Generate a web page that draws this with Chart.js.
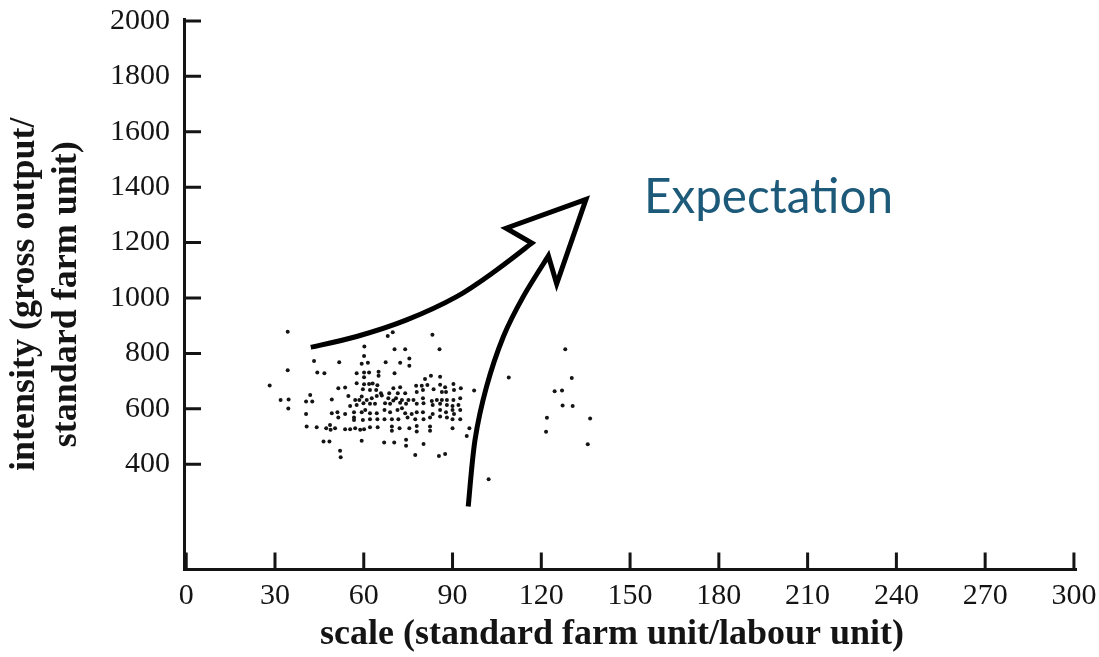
<!DOCTYPE html>
<html><head><meta charset="utf-8">
<script src="https://cdn.jsdelivr.net/npm/chart.js@4.4.1/dist/chart.umd.min.js"></script>
<style>html,body{margin:0;padding:0;background:#fff;overflow:hidden}canvas{display:block}</style>
</head><body>
<canvas id="c" width="1099" height="657"></canvas>
<script>
// ---- data ----
const xTickValues = [0, 30, 60, 90, 120, 150, 180, 210, 240, 270, 300];
const yTickValues = [400, 600, 800, 1000, 1200, 1400, 1600, 1800, 2000];

const scaleValues = [
  34.3,34.3,28.2,31.9,34.6,34.5,
  68.1,69.8,83.2,
  60.2,70.4,74.0,85.6,
  60.1,43.2,51.7,59.3,61.4,67.4,72.3,75.4,75.4,
  44.3,46.7,57.6,60.1,61.8,65.0,70.4,65.0,60.1,
  80.7,82.7,85.8,109.0,128.1,130.3,
  51.4,53.7,57.6,60.1,61.8,63.0,64.6,70.0,72.3,77.7,79.6,81.5,85.8,87.5,90.3,92.8,97.3,
  59.7,62.1,64.2,65.8,68.6,71.5,74.0,77.9,80.0,83.6,86.4,87.8,90.5,
  41.9,40.5,42.6,49.2,54.8,57.1,58.5,59.3,61.0,62.7,64.4,66.1,68.3,70.0,70.9,72.9,75.1,76.8,80.0,83.0,84.7,86.4,88.1,90.3,92.6,
  55.4,57.6,59.9,62.1,63.8,67.2,68.9,72.3,74.3,77.9,80.2,83.3,85.8,88.1,90.0,92.0,
  40.5,49.2,51.1,51.4,53.7,56.7,56.7,59.3,60.5,62.1,64.4,67.0,68.9,71.4,72.9,74.0,76.2,77.9,80.0,83.3,85.8,87.8,90.0,90.5,92.6,
  56.7,59.7,62.1,64.6,67.0,69.5,71.7,74.8,77.4,80.2,82.4,85.8,88.1,90.0,92.6,
  40.7,44.1,47.3,48.6,48.8,50.3,53.7,55.4,57.1,58.8,60.1,62.1,64.7,69.5,69.5,72.1,75.4,77.9,77.9,82.4,82.4,90.0,95.7,94.8,
  46.4,48.4,59.3,66.9,70.3,74.3,74.3,80.2,
  52.0,52.2,77.4,85.4,87.5,
  102.2,
  124.5,127.0,127.2,130.6,121.9,136.5,121.6,135.7
];
const intensityValues = [
  878,739,684,632,634,601,
  863,876,867,
  825,815,815,815,
  791,773,768,763,766,768,766,782,755,
  731,728,728,731,731,734,728,719,714,
  708,719,716,713,815,711,
  674,677,692,689,690,691,685,674,678,683,683,686,687,678,690,674,666,
  671,668,668,656,656,656,656,661,668,671,661,661,668,
  650,626,626,634,646,632,632,644,632,638,646,648,638,630,638,632,632,632,638,628,632,632,632,632,638,
  610,614,620,618,618,620,618,622,618,618,620,614,618,614,610,614,
  581,584,588,569,581,588,569,588,596,584,584,596,588,596,602,584,581,588,588,581,596,588,596,581,596,
  560,560,562,562,562,562,562,569,562,562,569,572,569,562,562,
  536,533,530,542,524,530,526,526,530,524,526,533,533,536,521,530,530,538,518,536,521,530,530,502,
  482,482,485,478,478,488,467,473,
  449,425,433,430,437,
  346,
  663,666,612,610,568,565,517,472
];

// annotation arrow (in data units: scale, intensity)
const arrowUpper = [[42.1,822],[57.6,861],[74.5,921],[91.4,1005],[104.9,1101],[116.8,1198]];
const arrowHead  = [[108.1,1252],[135.1,1356],[125.2,1051],[122.4,1152]];
const arrowLower = [[122.4,1152],[113.9,1005],[107.2,861],[101.5,680],[97.6,488],[95.3,247]];
const annotationText = 'Expectation';
const annotationAt = [154.7, 1308];

const xTitle = 'scale (standard farm unit/labour unit)';
const yTitle = ['intensity (gross output/', 'standard farm unit)'];

// ---- chart ----
const points = scaleValues.map((x, i) => ({x: x, y: intensityValues[i]}));
const INK = '#141414';
const SERIF = "'Liberation Serif', 'Times New Roman', serif";

function smoothPath(ctx, pts, first) {
  if (first) ctx.moveTo(pts[0][0], pts[0][1]); else ctx.lineTo(pts[0][0], pts[0][1]);
  for (let i = 0; i < pts.length - 1; i++) {
    const p0 = pts[i - 1] || pts[i], p1 = pts[i], p2 = pts[i + 1], p3 = pts[i + 2] || p2;
    ctx.bezierCurveTo(p1[0] + (p2[0] - p0[0]) / 6, p1[1] + (p2[1] - p0[1]) / 6,
                      p2[0] - (p3[0] - p1[0]) / 6, p2[1] - (p3[1] - p1[1]) / 6,
                      p2[0], p2[1]);
  }
}

const decor = {
  id: 'decor',
  afterDatasetsDraw(chart) {
    const {ctx, chartArea, scales: {x, y}} = chart;
    const P = p => [x.getPixelForValue(p[0]), y.getPixelForValue(p[1])];
    ctx.save();
    // inward tick marks
    ctx.strokeStyle = INK; ctx.lineWidth = 3; ctx.lineCap = 'butt';
    ctx.beginPath();
    xTickValues.forEach(v => { const px = x.getPixelForValue(v); ctx.moveTo(px, chartArea.bottom); ctx.lineTo(px, chartArea.bottom - 17); });
    yTickValues.forEach(v => { const py = y.getPixelForValue(v); ctx.moveTo(chartArea.left, py); ctx.lineTo(chartArea.left + 17, py); });
    ctx.stroke();
    // arrow
    ctx.lineWidth = 5; ctx.lineJoin = 'miter'; ctx.miterLimit = 10; ctx.strokeStyle = '#000';
    ctx.beginPath();
    smoothPath(ctx, arrowUpper.map(P), true);
    arrowHead.map(P).forEach(p => ctx.lineTo(p[0], p[1]));
    smoothPath(ctx, arrowLower.map(P), false);
    ctx.stroke();
    // annotation text
    ctx.font = "100px Lato, 'Open Sans', sans-serif";
    const w = ctx.measureText(annotationText).width;
    const size = 100 * 249 / w;
    ctx.font = size.toFixed(2) + "px Lato, 'Open Sans', sans-serif";
    ctx.fillStyle = '#1D5A7A'; ctx.textAlign = 'left'; ctx.textBaseline = 'alphabetic';
    const a = P(annotationAt);
    ctx.fillText(annotationText, a[0], a[1]);
    // x title
    ctx.font = "bold 36px " + SERIF; ctx.fillStyle = INK;
    ctx.textAlign = 'center'; ctx.textBaseline = 'middle';
    ctx.fillText(xTitle, (chartArea.left + chartArea.right) / 2 - 18, chart.height - 22);
    ctx.restore();
  }
};

new Chart(document.getElementById('c'), {
  type: 'scatter',
  data: { datasets: [{ data: points, pointRadius: 2.0, pointBorderWidth: 0, pointBackgroundColor: INK, pointStyle: 'circle' }] },
  options: {
    responsive: false, animation: false, devicePixelRatio: 1, events: [],
    layout: { padding: { left: 0, top: 19, right: 23, bottom: 0 } },
    plugins: { legend: { display: false }, tooltip: { enabled: false } },
    scales: {
      x: {
        type: 'linear', min: -0.75, max: 300.7,
        afterBuildTicks: s => { s.ticks = xTickValues.map(v => ({value: v})); },
        afterFit: s => { s.height = 87.5; s.paddingLeft = 0; s.paddingRight = 0; },
        grid: { display: false, drawTicks: false },
        border: { display: true, color: INK, width: 3 },
        ticks: { autoSkip: false, maxRotation: 0, minRotation: 0, padding: 9, color: INK,
                 font: { family: SERIF, size: 30 }, callback: v => String(v) },
        title: { display: false }
      },
      y: {
        type: 'linear', min: 20, max: 2007,
        afterBuildTicks: s => { s.ticks = yTickValues.map(v => ({value: v})); },
        afterFit: s => { s.width = 184; s.paddingTop = 0; s.paddingBottom = 0; },
        grid: { display: false, drawTicks: false },
        border: { display: true, color: INK, width: 3 },
        ticks: { autoSkip: false, padding: 14, color: INK,
                 font: { family: SERIF, size: 30 }, callback: v => String(v) },
        title: { display: true, text: yTitle, color: INK, padding: { top: 4, bottom: 0 },
                 font: { family: SERIF, size: 36, weight: 'bold', lineHeight: 1.17 } }
      }
    }
  },
  plugins: [decor]
});
</script>
</body></html>
